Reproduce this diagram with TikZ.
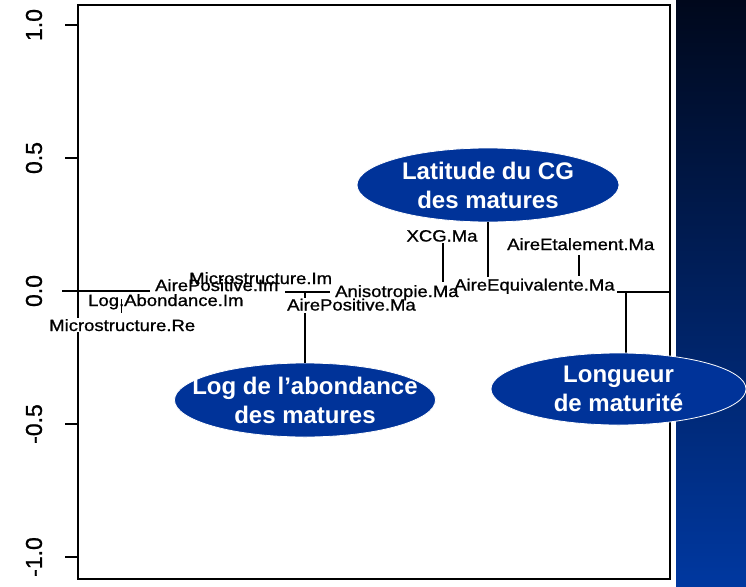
\documentclass[tikz,border=0pt]{standalone}
\usepackage{fontspec}
\setmainfont{Liberation Sans}
\newfontfamily\labfont[FakeBold=0.9]{Liberation Sans}
\usetikzlibrary{shapes.geometric}
\definecolor{ellblue}{RGB}{0,51,153}
\definecolor{paneltop}{RGB}{0,8,28}
\definecolor{panelmid}{RGB}{5,36,108}
\definecolor{panelbot}{RGB}{0,56,160}
\newcommand\plab[1]{\scalebox{1}[0.88]{#1}}
\tikzset{
  plotline/.style={line width=1.7pt, black},
  lbl/.style={anchor=base west, inner sep=0pt, font=\labfont\fontsize{18.5}{20}\selectfont},
  ylab/.style={rotate=90, inner sep=0pt, font=\labfont\fontsize{23}{23}\selectfont},
  callout/.style={ellipse, fill=ellblue, draw=white, line width=0.8pt, inner sep=0pt},
  callouttext/.style={text=white, align=center, inner sep=0pt, font=\fontsize{24}{29}\selectfont\bfseries},
}
\begin{document}
\begin{tikzpicture}[x=1pt,y=-1pt]
\useasboundingbox (0,0) rectangle (746,586);
\fill[white] (0,0) rectangle (746,586);
\shade[top color=paneltop, middle color=panelmid, bottom color=panelbot] (676,0) rectangle (746,586);

% plot frame
\draw[plotline] (78,5) rectangle (670,579);

% y axis ticks and labels
\foreach \yy/\tt in {25/1.0, 158/0.5, 291/0.0, 424/-0.5, 557/-1.0}{
  \coordinate (tk\yy) at (65,\yy);
  \draw[plotline] (tk\yy) -- ++(13,0);
  \node[ylab] (yl\yy) at (34,\yy) {\tt};
}

% labels
\node[lbl, fill=white, inner sep=1pt] (mre) at (48,331) {\plab{Microstructure.Re}};
\node[lbl] (lai) at (88,306) {\plab{Log.Abondance.Im}};
\node[lbl] (api) at (155,291) {\plab{AirePositive.Im}};
\node[lbl] (mim) at (189,284) {\plab{Microstructure.Im}};
\node[lbl] (ani) at (335,297) {\plab{Anisotropie.Ma}};
\node[lbl] (apm) at (287,310.5) {\plab{AirePositive.Ma}};
\node[lbl, anchor=base] (xcg) at (442,241.5) {\plab{XCG.Ma}};
\node[lbl] (aet) at (507,250) {\plab{AireEtalement.Ma}};
\node[lbl] (aeq) at (454,290.5) {\plab{AireEquivalente.Ma}};

% callout ellipses
\node[callout, minimum width=262pt, minimum height=74pt] (lat) at (488,185) {};
\node[callouttext] (latt) at (lat.center) {Latitude du CG\\des matures};
\node[callout, minimum width=261pt, minimum height=74pt] (logell) at (305,400) {};
\node[callouttext] (logt) at (logell.center) {Log de l’abondance\\des matures};

% tree segments
\coordinate (z0) at (62,291);
\coordinate (z1) at (150,291);
\draw[plotline] (z0) -- (z1);
\coordinate (d1) at (121.4,299);
\coordinate (d1b) at (121.4,313);
\draw[plotline] (d1) -- (d1b);
\coordinate (h2a) at (285,292);
\coordinate (h2b) at (330,292);
\draw[plotline] (h2a) -- (h2b);
\coordinate (v3a) at (305,292);
\coordinate (v3b) at (305,298);
\draw[plotline] (v3a) -- (v3b);
\coordinate (v4) at (305,313);
\draw[plotline] (v4) -- (logell.north);
\coordinate (v5a) at (443,243);
\coordinate (v5b) at (443,282);
\draw[plotline] (v5a) -- (v5b);
\coordinate (v6) at (488,277);
\draw[plotline] (lat.south) -- (v6);
\coordinate (v7a) at (579,255);
\coordinate (v7b) at (579,276);
\draw[plotline] (v7a) -- (v7b);
\coordinate (h8a) at (617,292);
\coordinate (h8b) at (670,292);
\draw[plotline] (h8a) -- (h8b);
\coordinate (v9) at (626,292);
\coordinate (v9b) at (626,354);
\draw[plotline] (v9) -- (v9b);

% Longueur ellipse drawn over frame, panel and its connector end
\node[callout, minimum width=255pt, minimum height=72pt] (lon) at (618.5,389) {};
\node[callouttext] (lont) at (lon.center) {Longueur\\de maturité};
\end{tikzpicture}
\end{document}
